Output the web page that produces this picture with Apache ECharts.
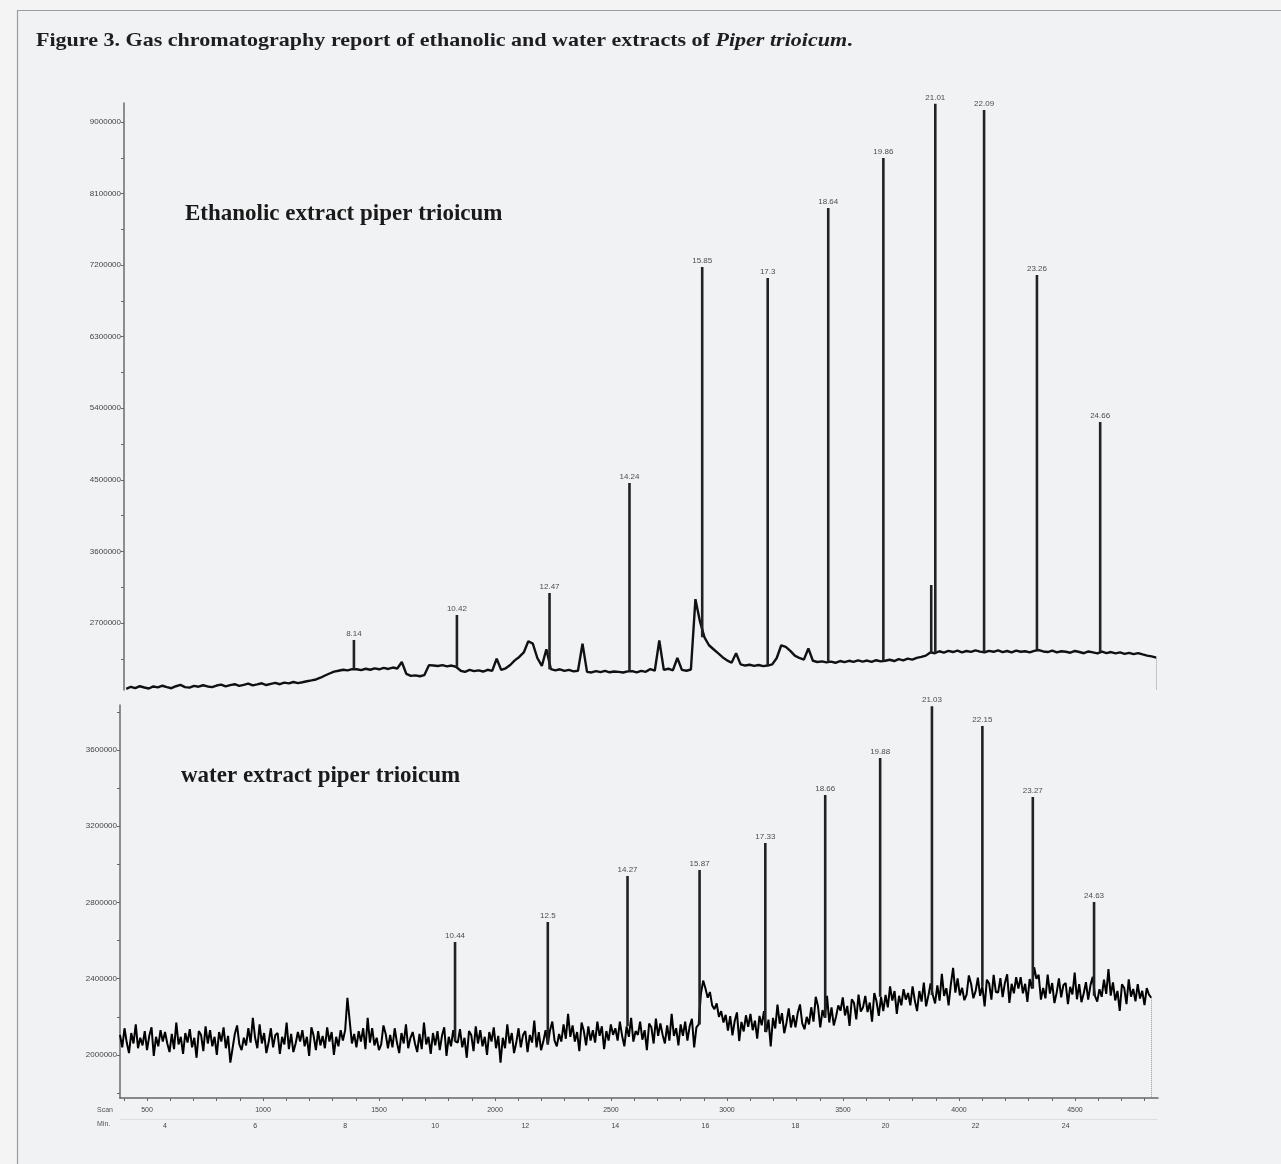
<!DOCTYPE html>
<html>
<head>
<meta charset="utf-8">
<title>Figure 3</title>
<script src="https://cdn.jsdelivr.net/npm/echarts@6/dist/echarts.min.js"></script>
<style>
html, body { margin: 0; padding: 0; background: #f4f4f5; }
#chart { width: 1281px; height: 1164px; }
</style>
</head>
<body>
<div id="chart"></div>
<script>
// ethanolic extract: baseline sampled every 0.1 min starting at 3.1 min
var ethStart = 3.1;
var ethStep = 0.1;
var ethBase = [
  1872000, 1898000, 1880000, 1905000, 1889000, 1876000, 1902000, 1890000, 1911000,
  1894000, 1880000, 1905000, 1921000, 1893000, 1888000, 1910000, 1899000, 1917000, 1902000,
  1893000, 1914000, 1925000, 1902000, 1918000, 1930000, 1909000, 1922000, 1938000, 1915000,
  1928000, 1942000, 1920000, 1935000, 1948000, 1930000, 1951000, 1940000, 1958000, 1944000,
  1955000, 1968000, 1978000, 1990000, 2012000, 2040000, 2065000, 2088000, 2100000, 2112000,
  2105000, 2120000, 2118000, 2108000, 2125000, 2112000, 2130000, 2118000, 2135000, 2122000,
  2140000, 2128000, 2210000, 2060000, 2035000, 2042000, 2030000, 2045000, 2170000, 2165000,
  2160000, 2170000, 2155000, 2165000, 2150000, 2100000, 2085000, 2110000, 2095000, 2105000,
  2090000, 2112000, 2098000, 2250000, 2110000, 2130000, 2172000, 2230000, 2273000, 2330000,
  2470000, 2440000, 2260000, 2160000, 2370000, 2120000, 2105000, 2118000, 2098000, 2110000,
  2092000, 2100000, 2440000, 2085000, 2078000, 2095000, 2082000, 2098000, 2080000, 2090000,
  2085000, 2078000, 2092000, 2095000, 2080000, 2098000, 2086000, 2120000, 2100000, 2480000,
  2110000, 2125000, 2105000, 2260000, 2110000, 2100000, 2115000, 3000000, 2720000, 2520000,
  2420000, 2370000, 2320000, 2270000, 2230000, 2200000, 2320000, 2180000, 2165000, 2175000,
  2160000, 2172000, 2158000, 2165000, 2180000, 2260000, 2420000, 2400000, 2350000, 2290000,
  2260000, 2240000, 2380000, 2225000, 2210000, 2218000, 2205000, 2215000, 2200000, 2222000,
  2208000, 2225000, 2212000, 2230000, 2215000, 2228000, 2210000, 2232000, 2218000, 2225000,
  2238000, 2222000, 2245000, 2230000, 2252000, 2240000, 2262000, 2275000, 2290000, 2330000,
  2320000, 2345000, 2328000, 2350000, 2335000, 2352000, 2330000, 2348000, 2336000, 2355000,
  2340000, 2332000, 2350000, 2338000, 2356000, 2334000, 2348000, 2330000, 2352000, 2338000,
  2345000, 2330000, 2350000, 2360000, 2342000, 2335000, 2352000, 2330000, 2345000, 2338000,
  2326000, 2348000, 2335000, 2320000, 2342000, 2330000, 2318000, 2340000, 2322000, 2335000,
  2318000, 2330000, 2312000, 2325000, 2308000, 2322000, 2305000, 2290000, 2280000, 2265000
];
var ethPeakTimes = [8.14, 10.42, 12.47, 14.24, 15.85, 17.3, 18.64, 19.86, 20.92, 21.01, 22.09, 23.26, 24.66];
var ethPeakHeights = [2486000, 2800000, 3078000, 4460000, 7177000, 7038000, 7918000, 8547000, 3178000, 9230000, 9151000, 7076000, 5228000];
var ethPeakLabels = ['8.14', '10.42', '12.47', '14.24', '15.85', '17.3', '18.64', '19.86', '', '21.01', '22.09', '23.26', '24.66'];
var ethYTicks = [2700000, 3600000, 4500000, 5400000, 6300000, 7200000, 8100000, 9000000];
var ethYMinor = [2250000, 3150000, 4050000, 4950000, 5850000, 6750000, 7650000, 8550000];

// water extract: baseline sampled every 0.05 min starting at 3.0 min
var watStart = 3.0;
var watStep = 0.05;
var watBase = [
  2105000, 2040000, 2140000, 2065000, 2010000, 2115000, 2060000, 2160000, 2035000, 2090000,
  2050000, 2125000, 2025000, 2100000, 2145000, 1995000, 2095000, 2045000, 2130000, 2070000,
  2120000, 2060000, 2015000, 2110000, 2030000, 2170000, 2055000, 2095000, 2005000, 2115000,
  2065000, 2135000, 2040000, 2090000, 1985000, 2125000, 2105000, 2020000, 2150000, 2060000,
  2130000, 2045000, 2095000, 2000000, 2120000, 2070000, 2145000, 2035000, 2100000, 1960000,
  2035000, 2110000, 2155000, 2055000, 2025000, 2090000, 2050000, 2140000, 2065000, 2195000,
  2090000, 2035000, 2160000, 2060000, 2115000, 2010000, 2065000, 2140000, 2040000, 2105000,
  2115000, 2005000, 2095000, 2055000, 2170000, 2030000, 2110000, 2015000, 2060000, 2120000,
  2070000, 2130000, 2045000, 2095000, 1995000, 2145000, 2100000, 2025000, 2125000, 2050000,
  2100000, 2035000, 2145000, 2070000, 2120000, 2000000, 2095000, 2045000, 2130000, 2075000,
  2130000, 2300000, 2180000, 2060000, 2110000, 2040000, 2125000, 2070000, 2140000, 2030000,
  2195000, 2065000, 2140000, 2050000, 2090000, 2025000, 2055000, 2155000, 2110000, 2035000,
  2105000, 2040000, 2140000, 2065000, 2010000, 2115000, 2060000, 2160000, 2035000, 2090000,
  2120000, 2060000, 2015000, 2110000, 2030000, 2170000, 2055000, 2095000, 2005000, 2115000,
  2050000, 2125000, 2025000, 2100000, 2145000, 1995000, 2095000, 2045000, 2130000, 2070000,
  2065000, 2135000, 2040000, 2090000, 1985000, 2125000, 2105000, 2020000, 2150000, 2060000,
  2130000, 2045000, 2095000, 2000000, 2120000, 2070000, 2145000, 2035000, 2100000, 1960000,
  2090000, 2035000, 2160000, 2060000, 2115000, 2010000, 2065000, 2140000, 2040000, 2105000,
  2125000, 2015000, 2105000, 2065000, 2180000, 2040000, 2120000, 2025000, 2070000, 2130000,
  2055000, 2130000, 2175000, 2075000, 2045000, 2110000, 2070000, 2160000, 2085000, 2215000,
  2095000, 2155000, 2070000, 2120000, 2020000, 2170000, 2125000, 2050000, 2150000, 2075000,
  2130000, 2065000, 2175000, 2100000, 2150000, 2030000, 2125000, 2075000, 2160000, 2105000,
  2140000, 2075000, 2175000, 2100000, 2045000, 2150000, 2095000, 2195000, 2070000, 2125000,
  2105000, 2175000, 2080000, 2130000, 2025000, 2165000, 2145000, 2060000, 2190000, 2100000,
  2165000, 2105000, 2060000, 2155000, 2075000, 2215000, 2100000, 2140000, 2050000, 2160000,
  2100000, 2175000, 2075000, 2150000, 2190000, 2040000, 2145000, 2160000, 2320000, 2390000,
  2350000, 2300000, 2330000, 2260000, 2240000, 2270000, 2200000, 2230000, 2170000, 2210000,
  2128000, 2203000, 2103000, 2178000, 2223000, 2073000, 2173000, 2123000, 2208000, 2148000,
  2215000, 2130000, 2180000, 2085000, 2205000, 2155000, 2230000, 2120000, 2185000, 2045000,
  2194000, 2139000, 2264000, 2164000, 2219000, 2114000, 2169000, 2244000, 2144000, 2209000,
  2145000, 2220000, 2265000, 2165000, 2135000, 2200000, 2160000, 2250000, 2175000, 2305000,
  2255000, 2145000, 2235000, 2195000, 2310000, 2170000, 2250000, 2155000, 2200000, 2260000,
  2232000, 2302000, 2207000, 2257000, 2152000, 2292000, 2272000, 2187000, 2317000, 2227000,
  2250000, 2310000, 2225000, 2275000, 2175000, 2325000, 2280000, 2205000, 2305000, 2230000,
  2315000, 2250000, 2360000, 2285000, 2335000, 2215000, 2310000, 2260000, 2345000, 2290000,
  2325000, 2260000, 2360000, 2285000, 2230000, 2335000, 2280000, 2380000, 2255000, 2310000,
  2375000, 2315000, 2270000, 2365000, 2285000, 2425000, 2310000, 2350000, 2260000, 2370000,
  2457000, 2327000, 2402000, 2312000, 2352000, 2287000, 2317000, 2417000, 2372000, 2297000,
  2335000, 2405000, 2310000, 2360000, 2255000, 2395000, 2375000, 2290000, 2420000, 2330000,
  2328000, 2403000, 2303000, 2378000, 2423000, 2273000, 2373000, 2323000, 2408000, 2348000,
  2408000, 2323000, 2373000, 2278000, 2398000, 2348000, 2460000, 2400000, 2420000, 2290000,
  2352000, 2297000, 2422000, 2322000, 2377000, 2272000, 2327000, 2402000, 2302000, 2367000,
  2377000, 2267000, 2357000, 2317000, 2432000, 2292000, 2372000, 2277000, 2322000, 2382000,
  2290000, 2365000, 2410000, 2310000, 2280000, 2345000, 2305000, 2395000, 2320000, 2450000,
  2311000, 2381000, 2286000, 2336000, 2231000, 2371000, 2351000, 2266000, 2396000, 2306000,
  2346000, 2281000, 2371000, 2296000, 2336000, 2261000, 2351000, 2316000, 2300000
];
var watPeakTimes = [10.44, 12.5, 14.27, 15.87, 17.33, 18.66, 19.88, 21.03, 22.15, 23.27, 24.63];
var watPeakHeights = [2593000, 2698000, 2939000, 2970000, 3112000, 3364000, 3558000, 3830000, 3726000, 3353000, 2803000];
var watPeakLabels = ['10.44', '12.5', '14.27', '15.87', '17.33', '18.66', '19.88', '21.03', '22.15', '23.27', '24.63'];
var watYTicks = [2000000, 2400000, 2800000, 3200000, 3600000];
var watYMinor = [1800000, 2200000, 2600000, 3000000, 3400000, 3800000];

// bottom axis rows
var scanTicks = [500, 1000, 1500, 2000, 2500, 3000, 3500, 4000, 4500];
var scanMinor = [];
for (var s = 400; s <= 4800; s += 100) scanMinor.push(s);
var minTicks = [4, 6, 8, 10, 12, 14, 16, 18, 20, 22, 24];

var smallFont = 'Liberation Sans Narrow, Liberation Sans, sans-serif';
var plain = function (v) { return String(v); };

function buildTrace(start, step, vals) {
  return vals.map(function (v, i) {
    return [+(start + i * step).toFixed(3), v];
  });
}
function baseAt(start, step, vals, t) {
  var i = Math.round((t - start) / step);
  i = Math.max(0, Math.min(vals.length - 1, i));
  return vals[i];
}
function buildPeaks(times, heights, start, step, vals) {
  var d = [];
  for (var i = 0; i < times.length; i++) {
    var b = baseAt(start, step, vals, times[i]);
    d.push([times[i], b], [times[i], heights[i]], [times[i], b], [times[i], '-']);
  }
  return d;
}
function buildTops(times, heights) {
  return times.map(function (t, i) { return [t, heights[i]]; });
}

var ethMin = 1857500, ethMax = 9239000;
var watMin = 1774000, watMax = 3836000;
var ethEndT = +(ethStart + (ethBase.length - 1) * ethStep).toFixed(3);
var watEndT = +(watStart + (watBase.length - 1) * watStep).toFixed(3);

var chart = echarts.init(document.getElementById('chart'));
var option = {
  animation: false,
  backgroundColor: 'transparent',
  graphic: [
    { type: 'rect', z: -10, shape: { x: 17.5, y: 10.5, width: 1300, height: 1200 },
      style: { fill: '#f1f2f4', stroke: '#9c9c9c', lineWidth: 1.2 } },
    { type: 'text', left: 36, top: 32, scaleX: 1.16, style: {
      text: '{b|Figure 3. Gas chromatography report of ethanolic and water extracts of }{i|Piper trioicum}{b|.}',
      rich: {
        b: { fontFamily: 'Liberation Serif', fontWeight: 'bold', fontSize: 19, fill: '#1e1e1e' },
        i: { fontFamily: 'Liberation Serif', fontWeight: 'bold', fontStyle: 'italic', fontSize: 19, fill: '#1e1e1e' }
      } } },
    { type: 'text', left: 185, top: 203, style: { text: 'Ethanolic extract piper trioicum',
      fontFamily: 'Liberation Serif', fontWeight: 'bold', fontSize: 23, fill: '#1a1a1a' } },
    { type: 'text', left: 181, top: 765, style: { text: 'water extract piper trioicum',
      fontFamily: 'Liberation Serif', fontWeight: 'bold', fontSize: 23, fill: '#1a1a1a' } },
    { type: 'text', left: 97, top: 1107, style: { text: 'Scan', fontSize: 7, fontFamily: smallFont, fill: '#555' } },
    { type: 'text', left: 97, top: 1121, style: { text: 'Min.', fontSize: 7, fontFamily: smallFont, fill: '#555' } }
  ],
  grid: [
    { left: 124, top: 103, width: 1034, height: 587 },
    { left: 120, top: 705, width: 1038, height: 393 }
  ],
  xAxis: [
    { gridIndex: 0, type: 'value', min: 3.05, max: 25.94, show: false },
    { gridIndex: 1, type: 'value', min: 3.0, max: 26.05, position: 'bottom', offset: 21,
      axisLine: { show: true, lineStyle: { color: '#dadada', type: 'dotted', width: 1 } },
      axisTick: { show: false },
      axisLabel: { customValues: minTicks, fontSize: 7, color: '#444', margin: 4, fontFamily: smallFont, formatter: plain },
      splitLine: { show: false } },
    { gridIndex: 1, type: 'value', min: 383.6, max: 4858, position: 'bottom', offset: 0,
      axisLine: { show: true, lineStyle: { color: '#666', width: 1.5 } },
      axisTick: { show: true, length: 3, customValues: scanMinor, lineStyle: { color: '#666' } },
      axisLabel: { customValues: scanTicks, fontSize: 7, color: '#444', margin: 9, fontFamily: smallFont, formatter: plain },
      splitLine: { show: false } }
  ],
  yAxis: [
    { gridIndex: 0, type: 'value', min: ethMin, max: ethMax,
      axisLine: { show: true, lineStyle: { color: '#6b6b6b', width: 1.5 } },
      axisTick: { show: true, length: 3, customValues: ethYTicks.concat(ethYMinor), lineStyle: { color: '#666' } },
      axisLabel: { customValues: ethYTicks, fontSize: 8, color: '#444', margin: 3, fontFamily: smallFont, formatter: plain },
      splitLine: { show: false } },
    { gridIndex: 1, type: 'value', min: watMin, max: watMax,
      axisLine: { show: true, lineStyle: { color: '#6b6b6b', width: 1.5 } },
      axisTick: { show: true, length: 3, customValues: watYTicks.concat(watYMinor), lineStyle: { color: '#666' } },
      axisLabel: { customValues: watYTicks, fontSize: 8, color: '#444', margin: 3, fontFamily: smallFont, formatter: plain },
      splitLine: { show: false } }
  ],
  series: [
    // ethanolic trace
    { type: 'line', xAxisIndex: 0, yAxisIndex: 0, showSymbol: false,
      data: buildTrace(ethStart, ethStep, ethBase),
      lineStyle: { color: '#111', width: 2.4 },
      markLine: { silent: true, symbol: 'none', label: { show: false },
        lineStyle: { type: 'dotted', color: '#999', width: 1 },
        data: [[{ coord: [ethEndT, ethBase[ethBase.length - 1]] }, { coord: [ethEndT, ethMin] }]] } },
    { type: 'line', xAxisIndex: 0, yAxisIndex: 0, showSymbol: false, connectNulls: false,
      data: buildPeaks(ethPeakTimes, ethPeakHeights, ethStart, ethStep, ethBase),
      lineStyle: { color: '#222', width: 2.6 } },
    { type: 'scatter', xAxisIndex: 0, yAxisIndex: 0, symbolSize: 0,
      data: buildTops(ethPeakTimes, ethPeakHeights),
      label: { show: true, position: 'top', distance: 2, fontSize: 8, color: '#222', fontFamily: smallFont,
        formatter: function (p) { return ethPeakLabels[p.dataIndex]; } } },
    // water trace
    { type: 'line', xAxisIndex: 1, yAxisIndex: 1, showSymbol: false,
      data: buildTrace(watStart, watStep, watBase),
      lineStyle: { color: '#000', width: 2 },
      markLine: { silent: true, symbol: 'none', label: { show: false },
        lineStyle: { type: 'dotted', color: '#999', width: 1 },
        data: [[{ coord: [watEndT, watBase[watBase.length - 1]] }, { coord: [watEndT, watMin] }]] } },
    { type: 'line', xAxisIndex: 1, yAxisIndex: 1, showSymbol: false, connectNulls: false,
      data: buildPeaks(watPeakTimes, watPeakHeights, watStart, watStep, watBase),
      lineStyle: { color: '#222', width: 2.6 } },
    { type: 'scatter', xAxisIndex: 1, yAxisIndex: 1, symbolSize: 0,
      data: buildTops(watPeakTimes, watPeakHeights),
      label: { show: true, position: 'top', distance: 2, fontSize: 8, color: '#222', fontFamily: smallFont,
        formatter: function (p) { return watPeakLabels[p.dataIndex]; } } }
  ]
};
chart.setOption(option);
</script>
</body>
</html>
